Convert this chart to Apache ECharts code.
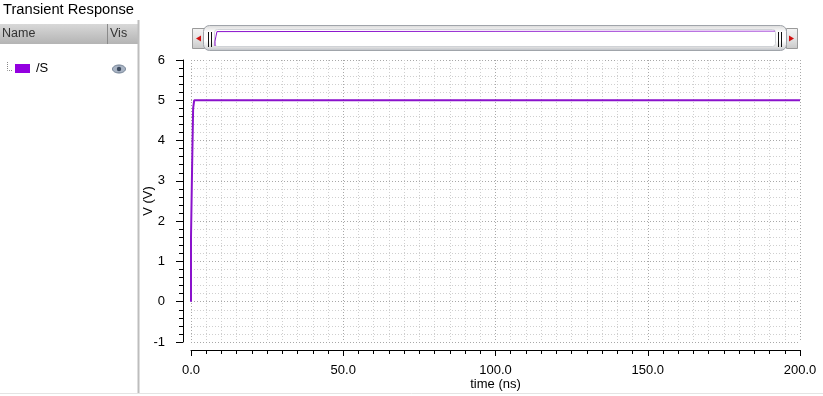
<!DOCTYPE html>
<html>
<head>
<meta charset="utf-8">
<script src="https://cdn.jsdelivr.net/npm/echarts@6/dist/echarts.min.js"></script>
<style>
html,body{margin:0;padding:0;background:#fff;}
#chart{width:823px;height:396px;}
</style>
</head>
<body>
<div id="chart"></div>
<script>
// ---- data ----
const panelTitle = 'Transient Response';
const columnNames = ['Name', 'Vis'];
const signalName = '/S';
const timeNs = [0, 0, 0.35, 0.35, 0.7, 0.7, 1.05, 1.05, 200];
const voltS  = [0, 1.6, 1.6, 3.28, 3.28, 4.8, 4.8, 5.0, 5.0];
const xTicks = [0, 50, 100, 150, 200];
const yTicks = [-1, 0, 1, 2, 3, 4, 5, 6];
const xName = 'time (ns)';
const yName = 'V (V)';

const lineColor = '#8a12cc';
const font = 'Liberation Sans';
const seriesData = timeNs.map((t, i) => [t, voltS[i]]);

const chart = echarts.init(document.getElementById('chart'), null, {renderer: 'canvas'});

const btnGrad = new echarts.graphic.LinearGradient(0, 0, 0, 1, [
  {offset: 0, color: '#f4f4f4'}, {offset: 0.5, color: '#e4e4e4'}, {offset: 1, color: '#c8c8c8'}]);
const thumbGrad = new echarts.graphic.LinearGradient(0, 0, 0, 1, [
  {offset: 0, color: '#d8d8d8'}, {offset: 0.25, color: '#fbfbfb'}, {offset: 0.6, color: '#ffffff'},
  {offset: 0.85, color: '#e0e0e0'}, {offset: 1, color: '#b8bcc4'}]);
const headGrad = new echarts.graphic.LinearGradient(0, 0, 0, 1, [
  {offset: 0, color: '#d8d8d8'}, {offset: 1, color: '#b4b4b4'}]);

const option = {
  animation: false,
  backgroundColor: '#ffffff',
  textStyle: {fontFamily: font},
  grid: [
    {left: 191, right: 23, top: 60, bottom: 54},
    {left: 215, right: 48, top: 31, height: 15}
  ],
  xAxis: [{
    type: 'value', gridIndex: 0, min: xTicks[0], max: xTicks[xTicks.length - 1], interval: 50,
    offset: 8,
    name: xName, nameLocation: 'middle', nameGap: 28, nameMoveOverlap: false,
    nameTextStyle: {fontFamily: font, fontSize: 13, color: '#000'},
    axisLine: {show: true, onZero: false, lineStyle: {color: '#000', width: 1}},
    axisTick: {show: true, inside: false, length: 6, lineStyle: {color: '#000'}},
    minorTick: {show: true, splitNumber: 10, length: 4, lineStyle: {color: '#000'}},
    axisLabel: {margin: 14, fontFamily: font, fontSize: 13, color: '#000',
      formatter: v => v.toFixed(1)},
    splitLine: {show: true, lineStyle: {color: '#a8a8a8', type: [1, 2], width: 1}},
    minorSplitLine: {show: true, lineStyle: {color: '#cfcfcf', type: [1, 2], width: 1}}
  }, {
    type: 'value', gridIndex: 1, min: 0, max: 200, show: false
  }],
  yAxis: [{
    type: 'value', gridIndex: 0, min: yTicks[0], max: yTicks[yTicks.length - 1], interval: 1,
    offset: 8,
    name: yName, nameLocation: 'middle', nameGap: 28, nameRotate: 90, nameMoveOverlap: false,
    nameTextStyle: {fontFamily: font, fontSize: 13, color: '#000'},
    axisLine: {show: true, onZero: false, lineStyle: {color: '#000', width: 1}},
    axisTick: {show: true, inside: false, length: 7, lineStyle: {color: '#000'}},
    minorTick: {show: true, splitNumber: 5, length: 4, lineStyle: {color: '#000'}},
    axisLabel: {margin: 18, fontFamily: font, fontSize: 13, color: '#000'},
    splitLine: {show: true, lineStyle: {color: '#a8a8a8', type: [1, 2], width: 1}},
    minorSplitLine: {show: true, lineStyle: {color: '#cfcfcf', type: [1, 2], width: 1}}
  }, {
    type: 'value', gridIndex: 1, min: 0, max: 5, show: false
  }],
  series: [{
    type: 'line', name: signalName, xAxisIndex: 0, yAxisIndex: 0,
    data: seriesData, showSymbol: false, symbol: 'none',
    lineStyle: {color: lineColor, width: 2}, z: 5
  }, {
    type: 'line', name: signalName + ' overview', xAxisIndex: 1, yAxisIndex: 1,
    data: seriesData, showSymbol: false, symbol: 'none',
    lineStyle: {color: lineColor, width: 1}, z: 5
  }],
  graphic: [
    // left panel
    {type: 'text', left: 3, top: 2, z: 1,
      style: {text: panelTitle, fontFamily: font, fontSize: 14.7, fill: '#000'}},
    {type: 'rect', shape: {x: 0, y: 24, width: 138, height: 20}, z: 1,
      style: {fill: headGrad}},
    {type: 'line', shape: {x1: 107.5, y1: 24, x2: 107.5, y2: 44}, z: 2,
      style: {stroke: '#8a8a8a', lineWidth: 1}},
    {type: 'text', left: 2, top: 27, z: 2,
      style: {text: columnNames[0], fontFamily: font, fontSize: 12.5, fill: '#333'}},
    {type: 'text', left: 110, top: 27, z: 2,
      style: {text: columnNames[1], fontFamily: font, fontSize: 12.5, fill: '#333'}},
    {type: 'line', shape: {x1: 138.5, y1: 20, x2: 138.5, y2: 393}, z: 1,
      style: {stroke: '#bdbdbd', lineWidth: 2}},
    // tree dotted line
    {type: 'polyline', shape: {points: [[7.5, 62], [7.5, 70.5], [13, 70.5]]}, z: 1,
      style: {stroke: '#888', lineWidth: 1, lineDash: [1, 1], fill: null}},
    {type: 'rect', shape: {x: 15, y: 64, width: 15, height: 9}, z: 1,
      style: {fill: '#9300e0'}},
    {type: 'text', left: 36, top: 62, z: 1,
      style: {text: signalName, fontFamily: font, fontSize: 13, fill: '#000'}},
    // eye icon
    {type: 'ellipse', shape: {cx: 119, cy: 69, rx: 6.5, ry: 4}, z: 1,
      style: {fill: '#a9b4c4', stroke: '#6d7c90', lineWidth: 1}},
    {type: 'circle', shape: {cx: 119, cy: 69, r: 2.2}, z: 2,
      style: {fill: '#3c4a5e'}},
    // bottom line
    {type: 'line', shape: {x1: 0, y1: 393.5, x2: 823, y2: 393.5}, z: 1,
      style: {stroke: '#e4e4e4', lineWidth: 1}},
    // scrollbar
    {type: 'rect', shape: {x: 192.5, y: 28.5, width: 12, height: 20}, z: 1,
      style: {fill: btnGrad, stroke: '#9a9a9a', lineWidth: 1}},
    {type: 'polygon', shape: {points: [[196, 38.5], [201, 35.5], [201, 41.5]]}, z: 2,
      style: {fill: '#d01010'}},
    {type: 'rect', shape: {x: 786.5, y: 28.5, width: 11, height: 20}, z: 1,
      style: {fill: btnGrad, stroke: '#9a9a9a', lineWidth: 1}},
    {type: 'polygon', shape: {points: [[794, 38.5], [789, 35.5], [789, 41.5]]}, z: 2,
      style: {fill: '#d01010'}},
    {type: 'rect', shape: {x: 203.5, y: 25.5, width: 583, height: 25, r: 6}, z: 1,
      style: {fill: thumbGrad, stroke: '#a0a4aa', lineWidth: 1}},
    {type: 'rect', shape: {x: 214.5, y: 29.5, width: 561, height: 17, r: 3}, z: 1,
      style: {fill: '#ffffff', stroke: '#cfd2d6', lineWidth: 1}},
    {type: 'line', shape: {x1: 208.5, y1: 32, x2: 208.5, y2: 47}, z: 2, style: {stroke: '#111', lineWidth: 1}},
    {type: 'line', shape: {x1: 211.5, y1: 32, x2: 211.5, y2: 47}, z: 2, style: {stroke: '#111', lineWidth: 1}},
    {type: 'line', shape: {x1: 778.5, y1: 32, x2: 778.5, y2: 47}, z: 2, style: {stroke: '#111', lineWidth: 1}},
    {type: 'line', shape: {x1: 781.5, y1: 32, x2: 781.5, y2: 47}, z: 2, style: {stroke: '#111', lineWidth: 1}}
  ]
};
chart.setOption(option);
</script>
</body>
</html>
